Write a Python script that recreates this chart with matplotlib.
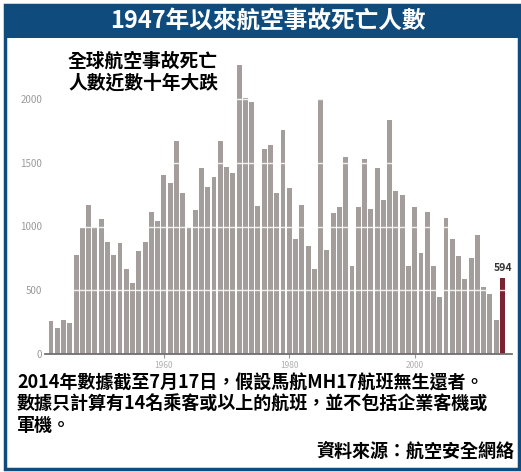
import matplotlib.pyplot as plt
from matplotlib.patches import Rectangle

plt.rcParams['font.family'] = ['Noto Sans CJK TC', 'DejaVu Sans']

# 航空安全網絡：每年航空事故死亡人數 (1942 - 2014)
years = list(range(1942, 2015))
deaths = [255, 205, 265, 240, 780, 985, 1170, 1000, 1055, 875,
          775, 870, 665, 555, 810, 875, 1110, 1040, 1405, 1340,
          1670, 1260, 1000, 1130, 1455, 1310, 1385, 1670, 1465, 1420,
          2270, 2010, 1980, 1160, 1605, 1640, 1260, 1755, 1300, 900,
          1170, 845, 670, 2000, 815, 1105, 1150, 1545, 690, 1150,
          1530, 1135, 1455, 1210, 1835, 1275, 1245, 690, 1150, 795,
          1115, 690, 450, 1070, 900, 770, 585, 750, 935, 525,
          470, 265, 594]
yticks = [0, 500, 1000, 1500, 2000]
xticks = [1960, 1980, 2000]

W, H = 521, 472
fig = plt.figure(figsize=(W / 100, H / 100), dpi=100)
fig.patch.set_facecolor('white')

def fx(px):
    return px / W

def fy(py):
    return 1 - py / H

# cadre bleu + bandeau du titre
fig.patches.append(Rectangle((fx(5), fy(469)), fx(514), 464 / H, transform=fig.transFigure,
                             fill=False, edgecolor='#0f4c7d', linewidth=2.5, zorder=0))
fig.patches.append(Rectangle((fx(5), fy(38)), fx(516), 33 / H, transform=fig.transFigure,
                             facecolor='#0f4c7d', edgecolor='none', zorder=0))
fig.text(fx(268), fy(21), '1947年以來航空事故死亡人數', color='white', fontsize=17,
         fontweight='bold', ha='center', va='center')

# graphique
ax = fig.add_axes([fx(45), fy(354), fx(467), 293.25 / H])
colors = ['#a39e9c'] * (len(years) - 1) + ['#7b2332']
ax.bar(years, deaths, width=0.78, color=colors, zorder=2)
for v in yticks[1:]:
    ax.axhline(v, color='white', lw=1, alpha=0.85, zorder=3)
ax.set_xlim(1941.04, 2015.52)
ax.set_ylim(0, 2300)
ax.set_yticks(yticks)
ax.set_xticks(xticks)
ax.tick_params(axis='y', length=0, pad=2, labelsize=7, labelcolor='#9a9a9a')
ax.tick_params(axis='x', length=3, width=0.8, color='#999999', pad=2,
               labelsize=6, labelcolor='#b0b0b0')
for s in ['top', 'right', 'left']:
    ax.spines[s].set_visible(False)
ax.spines['bottom'].set_color('#707070')
ax.spines['bottom'].set_linewidth(1.3)
ax.set_facecolor('none')

ax.annotate(str(deaths[-1]), (years[-1], deaths[-1]), xytext=(0, 4), textcoords='offset points',
            ha='center', va='bottom', fontsize=7.5, fontweight='bold', color='#333333')

fig.text(fx(68), fy(61), '全球航空事故死亡', fontsize=13.5, fontweight='bold', va='center')
fig.text(fx(68), fy(83), '人數近數十年大跌', fontsize=13.5, fontweight='bold', va='center')

# notes
notes = ['2014年數據截至7月17日，假設馬航MH17航班無生還者。',
         '數據只計算有14名乘客或以上的航班，並不包括企業客機或',
         '軍機。']
for i, line in enumerate(notes):
    fig.text(fx(17), fy(383 + 21 * i), line, fontsize=13, fontweight='bold', va='center')
fig.text(fx(514), fy(451), '資料來源：航空安全網絡', fontsize=13, fontweight='bold',
         va='center', ha='right')

fig.savefig('out.png', dpi=100)
